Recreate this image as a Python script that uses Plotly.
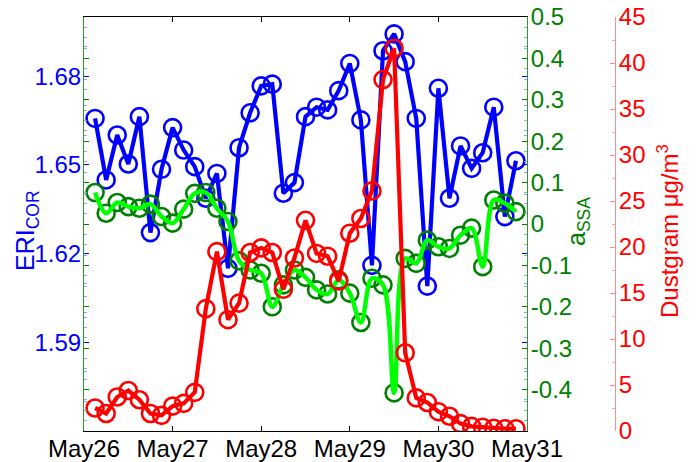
import pandas as pd
import plotly.graph_objects as go

# ---- data (3-hourly, 26-31 May) ----
times = pd.date_range("2013-05-26 03:00", periods=39, freq="3h")

eri_cor = [1.6657, 1.6449, 1.6601, 1.6503, 1.6663, 1.6271, 1.6485, 1.6626, 1.6550,
           1.6494, 1.6387, 1.6471, 1.6150, 1.6558, 1.6676, 1.6767, 1.6773, 1.6404,
           1.6440, 1.6663, 1.6695, 1.6686, 1.6751, 1.6843, 1.6652, 1.6160, 1.6886,
           1.6943, 1.6849, 1.6657, 1.6090, 1.6759, 1.6387, 1.6564, 1.6488, 1.6541,
           1.6695, 1.6325, 1.6514]

a_ssa = [0.076, 0.026, 0.052, 0.042, 0.038, 0.048, 0.018, 0.002, 0.036,
         0.074, 0.076, 0.038, 0.006, -0.089, -0.111, -0.119, -0.200, -0.147,
         -0.111, -0.129, -0.159, -0.169, -0.135, -0.167, -0.238, -0.131, -0.147,
         -0.408, -0.083, -0.095, -0.039, -0.055, -0.059, -0.027, -0.010, -0.103,
         0.058, 0.050, 0.030]

dustgram = [2.5, 1.9, 3.7, 4.4, 3.4, 1.9, 1.7, 2.7, 3.0,
            4.2, 13.3, 19.5, 12.1, 13.9, 19.4, 19.9, 19.4, 15.4,
            18.8, 22.9, 19.3, 19.0, 16.3, 21.5, 23.1, 26.1, 38.2,
            41.6, 8.5, 3.6, 3.1, 2.1, 1.6, 0.8, 0.5, 0.4,
            0.3, 0.25, 0.25]

eri_ticks = [1.59, 1.62, 1.65, 1.68]
ssa_ticks = [-0.4, -0.3, -0.2, -0.1, 0, 0.1, 0.2, 0.3, 0.4, 0.5]
ssa_ticktext = ["-0.4", "-0.3", "-0.2", "-0.1", "0", "0.1", "0.2", "0.3", "0.4", "0.5"]

FONT = "Liberation Sans, Arial, sans-serif"
BLUE = "#0000ff"
DGREEN = "#008000"
LIME = "#00ff00"
RED = "#ff0000"
TICKSIZE = 24

fig = go.Figure()

# ERI (blue)
fig.add_trace(go.Scatter(x=times, y=eri_cor, mode="markers", yaxis="y",
                         marker=dict(symbol="circle-open", size=17, color=BLUE,
                                     line=dict(width=2.6, color=BLUE))))
fig.add_trace(go.Scatter(x=times, y=eri_cor, mode="lines", yaxis="y",
                         line=dict(color=BLUE, width=4.2)))

# a_SSA (green)
fig.add_trace(go.Scatter(x=times, y=a_ssa, mode="markers", yaxis="y2",
                         marker=dict(symbol="circle-open", size=17, color=DGREEN,
                                     line=dict(width=2.6, color=DGREEN))))
fig.add_trace(go.Scatter(x=times, y=a_ssa, mode="lines", yaxis="y2",
                         line=dict(color=LIME, width=4.5, shape="spline", smoothing=1.0)))

# Dustgram (red)
fig.add_trace(go.Scatter(x=times, y=dustgram, mode="markers", yaxis="y3",
                         marker=dict(symbol="circle-open", size=17, color=RED,
                                     line=dict(width=2.6, color=RED))))
fig.add_trace(go.Scatter(x=times, y=dustgram, mode="lines", yaxis="y3",
                         line=dict(color=RED, width=4.2)))

ydom = [31 / 462, 445 / 462]

fig.update_layout(
    width=700, height=462,
    autosize=False,
    margin=dict(l=0, r=0, t=0, b=0, pad=0, autoexpand=False),
    paper_bgcolor="white", plot_bgcolor="white",
    showlegend=False,
    font=dict(family=FONT, size=TICKSIZE, color="black"),
    xaxis=dict(
        domain=[84 / 700, 527 / 700],
        automargin=False,
        type="date",
        range=["2013-05-26 00:00", "2013-05-31 00:00"],
        dtick=86400000, tickformat="%b%d",
        ticks="inside", ticklen=5, tickcolor="black",
        ticklabelstandoff=-4,
        showline=True, linecolor="black", linewidth=1, mirror="ticks",
        showgrid=False, zeroline=False,
        tickfont=dict(family=FONT, size=TICKSIZE, color="black"),
    ),
    yaxis=dict(
        domain=ydom,
        automargin=False,
        range=[1.56, 1.70],
        tickmode="array", tickvals=eri_ticks, ticktext=[f"{v:.2f}" for v in eri_ticks],
        ticks="inside", ticklen=5, tickcolor=BLUE,
        ticklabelstandoff=-3,
        showline=True, linecolor="#2e9a2e", linewidth=1, mirror="ticks",
        showgrid=False, zeroline=False,
        tickfont=dict(family=FONT, size=TICKSIZE, color=BLUE),
        minor=dict(tickmode="linear", tick0=1.56, dtick=0.01, ticks="inside",
                   ticklen=3, tickcolor="#9999ff", showgrid=False),
    ),
    yaxis2=dict(
        domain=ydom,
        automargin=False,
        overlaying="y", side="right", anchor="x",
        range=[-0.5, 0.5],
        tickmode="array", tickvals=ssa_ticks, ticktext=ssa_ticktext,
        ticks="inside", ticklen=5, tickcolor=DGREEN,
        ticklabelstandoff=-2,
        showline=True, linecolor="#2e9a2e", linewidth=1, mirror="ticks",
        showgrid=False, zeroline=False,
        tickfont=dict(family=FONT, size=TICKSIZE, color=DGREEN),
        minor=dict(tickmode="linear", tick0=-0.5, dtick=0.025, ticks="inside",
                   ticklen=3, tickcolor="#88aadd", showgrid=False),
    ),
    yaxis3=dict(
        domain=ydom,
        automargin=False,
        overlaying="y", side="right", anchor="free", position=615 / 700,
        range=[0, 45], tick0=0, dtick=5,
        ticks="inside", ticklen=5, tickcolor="#ff8c8c",
        ticklabelstandoff=-2,
        showline=True, linecolor="#ff8c8c", linewidth=1,
        showgrid=False, zeroline=False,
        tickfont=dict(family=FONT, size=TICKSIZE, color=RED),
        minor=dict(tickmode="linear", tick0=0, dtick=2.5, ticks="inside",
                   ticklen=3, tickcolor="#ffaaaa", showgrid=False),
    ),
    annotations=[
        dict(text="ERI<sub>COR</sub>", xref="paper", yref="paper",
             x=27 / 700, y=(462 - 231) / 462, xanchor="center", yanchor="middle",
             textangle=-90, showarrow=False,
             font=dict(family=FONT, size=25, color=BLUE)),
        dict(text="a<sub>SSA</sub>", xref="paper", yref="paper",
             x=578 / 700, y=(462 - 222) / 462, xanchor="center", yanchor="middle",
             textangle=-90, showarrow=False,
             font=dict(family=FONT, size=25, color=DGREEN)),
        dict(text="Dustgram μg/m<sup>3</sup>", xref="paper", yref="paper",
             x=668 / 700, y=(462 - 231) / 462, xanchor="center", yanchor="middle",
             textangle=-90, showarrow=False,
             font=dict(family=FONT, size=24, color=RED)),
    ],
)

fig.write_html("out.html")
